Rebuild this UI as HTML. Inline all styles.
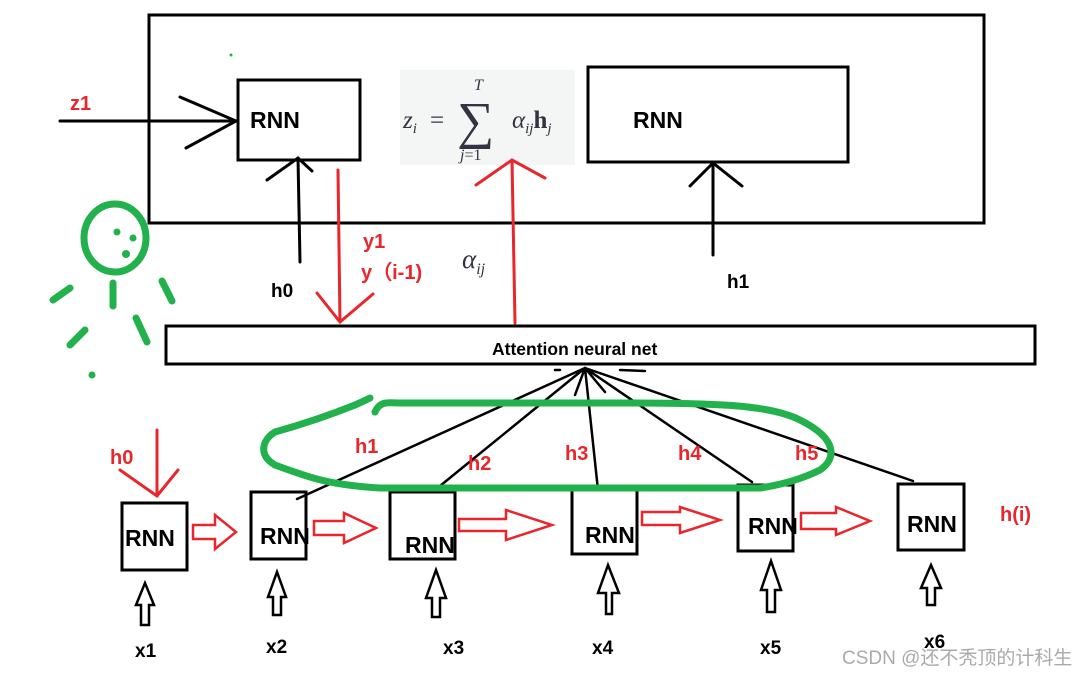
<!DOCTYPE html>
<html><head><meta charset="utf-8"><style>
html,body{margin:0;padding:0;background:#fff;}
svg{display:block}
.b{font-family:"Liberation Sans",sans-serif;font-weight:bold;}
</style></head><body>
<svg width="1091" height="674" viewBox="0 0 1091 674" xmlns="http://www.w3.org/2000/svg">
<rect width="1091" height="674" fill="#fff"/>
<g fill="none" stroke="#000" stroke-width="3">
<rect x="149" y="15" width="835" height="208"/>
<rect x="238" y="80" width="122" height="80"/>
<rect x="588" y="67" width="260" height="95"/>
<rect x="166" y="326" width="869" height="38"/>
<rect x="122" y="503" width="65" height="67"/>
<rect x="251" y="492" width="55" height="67"/>
<rect x="390" y="492" width="65" height="67"/>
<rect x="572" y="489" width="65" height="65"/>
<rect x="738" y="485" width="55" height="66"/>
<rect x="898" y="484" width="66" height="66"/>
</g>
<rect x="400" y="70" width="175" height="95" fill="#f4f5f5"/>
<g stroke="#000" stroke-width="3" fill="none" stroke-linecap="round">
<path d="M60 121H236M180 97L236 121L186 148"/>
<path d="M300 262L298 158M267 180L298 158L312 171"/>
<path d="M713 255V163M690 186L713 163L742 186"/>
</g>
<g stroke="#000" stroke-width="2.5" fill="none" stroke-linecap="round">
<path d="M585 368L297 499M585 368L435 490M585 368L598 490M585 368L752 482M585 368L913 481M585 368L575 395M585 368L605 392M620 370L645 371M555 370L560 370"/>
</g>
<g stroke="#e8262b" stroke-width="3" fill="none" stroke-linecap="round">
<path d="M338 170L340 322M317 293L340 322L373 294"/>
<path d="M515 323L512 160M476 185L512 160L545 178"/>
<path d="M157 430V496M120 470L157 496L178 470"/>
</g>
<g stroke="#e8262b" stroke-width="2.5" fill="#fff">
<path d="M193 525H215V515L236 532L215 549V539H193Z"/>
<path d="M314 521H344V513L376 528L344 543V535H314Z"/>
<path d="M459 519H506V510L552 525L506 540V531H459Z"/>
<path d="M642 512H680V507L720 520L680 533V525H642Z"/>
<path d="M801 513H836V507L870 521L836 535V529H801Z"/>
</g>
<g stroke="#000" stroke-width="2.5" fill="#fff">
<path d="M141 625V605H136L145 583L154 605H149V625Z"/>
<path d="M273 615V597H268L277 572L286 597H281V615Z"/>
<path d="M432 617V598H426L436 570L446 598H440V617Z"/>
<path d="M606 614V593H598L608 565L619 593H612V614Z"/>
<path d="M767 612V590H761L771 561L781 590H775V612Z"/>
<path d="M927 605V588H921L931 565L941 588H935V605Z"/>
</g>
<g stroke="#22b14c" stroke-width="7" fill="none" stroke-linecap="round">
<path d="M375 412C380 400 390 403 400 403H620C720 403 770 405 800 420C840 440 835 460 820 470C800 480 780 485 760 488H380C330 485 310 478 275 465C258 455 262 440 275 432C300 425 330 415 355 405C362 402 366 400 370 398"/>
<ellipse cx="115" cy="238" rx="31" ry="34"/>
<path d="M53 300L70 288M113 283V306M162 281L172 301M70 345L85 330M136 318L147 342"/>
</g>
<g fill="#22b14c"><circle cx="117" cy="232" r="3.5"/><circle cx="133" cy="238" r="3.5"/><circle cx="126" cy="254" r="4"/><circle cx="92" cy="375" r="3.5"/><circle cx="231" cy="55" r="1.5"/></g>
<g class="b" font-size="23" fill="#000">
<text x="250" y="128">RNN</text><text x="633" y="128">RNN</text>
<text x="125" y="546">RNN</text><text x="260" y="544">RNN</text><text x="405" y="553">RNN</text>
<text x="585" y="543">RNN</text><text x="748" y="534">RNN</text><text x="907" y="532">RNN</text>
</g>
<g class="b" font-size="19" fill="#000">
<text x="271" y="297">h0</text><text x="727" y="288">h1</text>
<text x="135" y="657">x1</text><text x="266" y="653">x2</text><text x="443" y="654">x3</text>
<text x="592" y="654">x4</text><text x="760" y="654">x5</text><text x="924" y="648">x6</text>
</g>
<text class="b" x="492" y="355" font-size="17.5" fill="#000">Attention neural net</text>
<g class="b" font-size="20" fill="#e8262b">
<text x="70" y="110">z1</text><text x="363" y="248">y1</text><text x="361" y="279">y（i-1)</text>
<text x="110" y="464">h0</text><text x="355" y="453">h1</text><text x="468" y="470">h2</text>
<text x="565" y="460">h3</text><text x="678" y="460">h4</text><text x="795" y="460">h5</text>
<text x="1000" y="521">h(i)</text>
</g>
<g font-family="Liberation Serif,serif" font-style="italic" fill="#334">
<text x="403" y="128" font-size="25">z<tspan font-size="15" dy="5">i</tspan></text>
<text x="430" y="128" font-size="25" font-style="normal">=</text>
<text x="457" y="138" font-size="52" font-style="normal">∑</text>
<text x="474" y="90" font-size="16">T</text>
<text x="460" y="160" font-size="16">j<tspan font-style="normal">=1</tspan></text>
<text x="512" y="128" font-size="25">α<tspan font-size="15" dy="5">ij</tspan><tspan dy="-5" font-style="normal" font-weight="bold">h</tspan><tspan font-size="15" dy="5">j</tspan></text>
<text x="462" y="268" font-size="27">α<tspan font-size="16" dy="6">ij</tspan></text>
</g>
<text x="842" y="664" font-family="Liberation Sans,'Noto Sans CJK SC',sans-serif" font-size="19" fill="#aaa">CSDN @还不秃顶的计科生</text>
</svg>
</body></html>
